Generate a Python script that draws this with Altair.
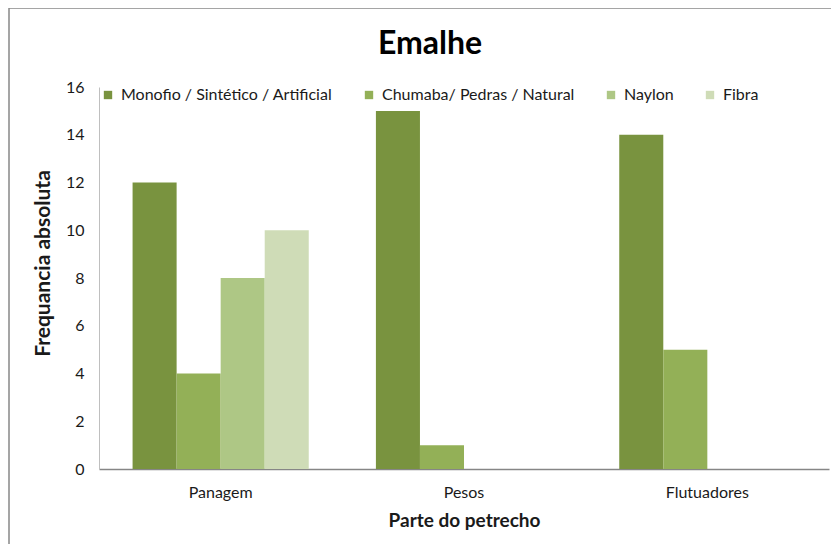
import altair as alt
import pandas as pd

categories = ["Panagem", "Pesos", "Flutuadores"]
series = ["Monofio / Sintético / Artificial", "Chumaba/ Pedras / Natural", "Naylon", "Fibra"]
monofio = [12, 15, 14]
chumaba = [4, 1, 5]
naylon = [8, 0, 0]
fibra = [10, 0, 0]
colors = ["#79933F", "#93B057", "#AEC785", "#CFDCB7"]
y_ticks = [0, 2, 4, 6, 8, 10, 12, 14, 16]

rows = []
for s, vals in zip(series, [monofio, chumaba, naylon, fibra]):
    for c, v in zip(categories, vals):
        rows.append({"Parte": c, "Serie": s, "Valor": v})
df = pd.DataFrame(rows)

FONT = "Lato"
TXT = "#1a1a1a"

bars = alt.Chart(df).mark_bar().encode(
    x=alt.X(
        "Parte:N",
        sort=categories,
        scale=alt.Scale(paddingInner=0.276, paddingOuter=0.138),
        axis=alt.Axis(
            title="Parte do petrecho", labelAngle=0, ticks=False,
            domainColor="#868686", domainWidth=1.5,
            labelPadding=15, titlePadding=11,
            labelFontSize=16, titleFontSize=19, titleFontWeight="bold",
            labelFont=FONT, titleFont=FONT, labelColor=TXT, titleColor=TXT,
        ),
    ),
    xOffset=alt.XOffset("Serie:N", sort=series),
    y=alt.Y(
        "Valor:Q",
        scale=alt.Scale(domain=[0, 16], nice=False),
        axis=alt.Axis(
            values=y_ticks, title="Frequancia absoluta", grid=False, ticks=False,
            domainColor="#BFBFBF", labelPadding=15, titlePadding=12, titleY=176,
            labelFontSize=16, titleFontSize=21, titleFontWeight="bold",
            labelFont=FONT, titleFont=FONT, labelColor=TXT, titleColor=TXT,
        ),
    ),
    color=alt.Color(
        "Serie:N",
        sort=series,
        scale=alt.Scale(domain=series, range=colors),
        legend=alt.Legend(
            title=None, orient="none", legendX=1, legendY=0,
            direction="horizontal", symbolType="square", symbolSize=70,
            labelFontSize=16, labelFont=FONT, labelColor=TXT, labelLimit=400,
            columnPadding=28, labelOffset=5, symbolStrokeWidth=0,
        ),
    ),
)

border = alt.Chart(pd.DataFrame({"k": [0]})).mark_rect(
    filled=False, stroke="#888888", strokeWidth=1.5
).encode(
    x=alt.value(-90), x2=alt.value(780), y=alt.value(-79), y2=alt.value(500)
)

chart = alt.layer(border, bars).properties(
    width=730,
    height=382,
    autosize=alt.AutoSizeParams(type="none"),
    padding={"left": 91, "top": 79, "right": 2, "bottom": 75},
    title=alt.Title("Emalhe", fontSize=32, font=FONT, fontWeight="bold",
                    anchor="middle", dx=-34, dy=58, color="#000000"),
).configure_view(stroke=None)

chart.save("out.html", embed_options={"renderer": "svg", "actions": False})
